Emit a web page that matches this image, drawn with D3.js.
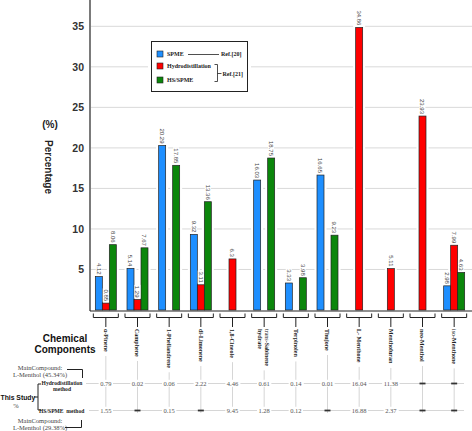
<!DOCTYPE html>
<html><head><meta charset="utf-8">
<script src="https://cdn.jsdelivr.net/npm/d3@7"></script>
<style>html,body{margin:0;padding:0;background:#fff;}svg{display:block;}</style>
</head><body>
<svg id="c" width="472" height="431"></svg>
<script>
const categories = ["α-Pinene","Camphene","1-Phellandrene","dl-Limonene","1,8-Cineole","trans-Sabinene hydrate","Terpinolen","Thujone","L- Menthone","Menthofuran","neo-Menthol","iso-Menthone"];
const series = ["SPME","Hydrodistillation","HS/SPME"];
const spme  = [4.12, 5.14, 20.29, 9.32, null, 16.03, 3.33, 16.65, null, null, null, 2.98];
const hydro = [0.85, 1.29, null, 3.11, 6.3, null, null, null, 34.86, 5.11, 23.93, 7.99];
const hsspme= [8.06, 7.67, 17.85, 13.36, null, 18.75, 3.98, 9.23, null, null, null, 4.63];
const studyHydro = [0.79, 0.02, 0.06, 2.22, 4.46, 0.61, 0.14, 0.01, 16.04, 11.38, null, null];
const studyHS    = [1.55, null, 0.15, null, 9.45, 1.28, 0.12, null, 16.88, 2.37, null, null];
const yTicks = [5,10,15,20,25,30,35];
const colors = ["#1e8fff","#ff0000","#0b860b"];

const svg = d3.select("#c");
const sans = "Liberation Sans, Arial, sans-serif";
const serif = "Liberation Serif, Times New Roman, serif";
const x = d3.scaleBand().domain(categories).range([90,470]).padding(0);
const xi = d3.scaleBand().domain(series).range([-10.5,10.5]);
const y = d3.scaleLinear().domain([0,38]).range([310,2]);
const cx = c => x(c) + x.bandwidth()/2;

// grid
svg.append("g").selectAll("line").data(yTicks).join("line")
  .attr("x1",91).attr("x2",472).attr("y1",d=>y(d)).attr("y2",d=>y(d))
  .attr("stroke","#d9d9d9").attr("stroke-width",1);

// y axis
const yAxis = d3.axisLeft(y).tickValues(yTicks).tickSize(0).tickPadding(6);
const ga = svg.append("g").attr("transform","translate(90,0)").call(yAxis);
ga.select(".domain").remove();
ga.selectAll("text").attr("font-family",sans).attr("font-size",10.5).attr("font-weight","bold").attr("fill","#333");
svg.append("line").attr("x1",90).attr("x2",90).attr("y1",0).attr("y2",311).attr("stroke","#222").attr("stroke-width",1.2);

// bars
const seriesVals = [spme, hydro, hsspme];
const bars = [];
categories.forEach((c,i)=>{
  series.forEach((s,j)=>{
    const v = seriesVals[j][i];
    if (v!=null) bars.push({c,s,j,v});
  });
});
svg.append("g").selectAll("rect").data(bars).join("rect")
  .attr("x",d=>cx(d.c)+xi(d.s)-2.5).attr("width",xi.bandwidth()+5)
  .attr("y",d=>y(d.v)-2.5).attr("height",d=>y(0)-y(d.v)+2.5).attr("fill","#fff");
svg.append("g").selectAll("rect").data(bars).join("rect")
  .attr("x",d=>cx(d.c)+xi(d.s)).attr("width",xi.bandwidth())
  .attr("y",d=>y(d.v)).attr("height",d=>y(0)-y(d.v))
  .attr("fill",d=>colors[d.j]).attr("stroke","#222").attr("stroke-width",0.7);

// value labels
bars.forEach(d=>{
  const g = svg.append("g").attr("transform",`translate(${cx(d.c)+xi(d.s)+xi.bandwidth()/2},${y(d.v)-2}) rotate(90)`);
  const r = g.append("rect").attr("fill","#fff");
  const t = g.append("text").text(String(d.v)).attr("text-anchor","end").attr("dy","0.35em")
    .attr("font-family",sans).attr("font-size",6).attr("fill","#444");
  const b = t.node().getBBox();
  r.attr("x",b.x-1).attr("y",b.y).attr("width",b.width+1).attr("height",b.height);
});

// x axis line
svg.append("line").attr("x1",90).attr("x2",472).attr("y1",311).attr("y2",311).attr("stroke","#222").attr("stroke-width",1.2);

// brackets and category labels
const rowY1 = 383.5, rowY2 = 410.5;
svg.append("line").attr("x1",86).attr("x2",464).attr("y1",rowY1).attr("y2",rowY1).attr("stroke","#ccc").attr("stroke-width",0.8);
svg.append("line").attr("x1",89).attr("x2",464).attr("y1",rowY2).attr("y2",rowY2).attr("stroke","#ccc").attr("stroke-width",0.8);

categories.forEach((c,i)=>{
  const X = cx(c);
  svg.append("path").attr("d",`M${X-12.5},313.5V317.5H${X+12.5}V313.5M${X},317.5V327`)
    .attr("fill","none").attr("stroke","#222").attr("stroke-width",1);
  const g = svg.append("g").attr("transform",`translate(${X},329) rotate(90)`);
  const parts = c==="trans-Sabinene hydrate" ? ["trans-Sabinene","hydrate"] : [c];
  const t = g.append("text").attr("font-family",serif).attr("font-size",6).attr("font-weight","bold").attr("fill","#222");
  parts.forEach((p,k)=>{
    const ts = t.append("tspan").attr("x",0).attr("dy", k===0 ? (parts.length>1? "-0.1em":"0.35em") : "1.1em");
    if (p.startsWith("trans")) { ts.append("tspan").attr("font-weight","normal").text("trans"); ts.append("tspan").text(p.slice(5)); }
    else if (p.startsWith("iso")) { ts.append("tspan").attr("font-weight","normal").text("iso"); ts.append("tspan").text(p.slice(3)); }
    else ts.text(p);
  });
  const len = t.node().getBBox().width;
  svg.insert("line",":first-child").attr("x1",X).attr("x2",X).attr("y1",329+len+4).attr("y2",413)
    .attr("stroke","#ccc").attr("stroke-width",0.8);
  [[studyHydro[i],rowY1],[studyHS[i],rowY2]].forEach(([v,yy])=>{
    if (v==null) {
      svg.append("line").attr("x1",X-3).attr("x2",X+3).attr("y1",yy).attr("y2",yy).attr("stroke","#333").attr("stroke-width",1.8);
    } else {
      const tt = svg.append("text").text(String(v)).attr("x",X).attr("y",yy).attr("dy","0.35em").attr("text-anchor","middle")
        .attr("font-family",serif).attr("font-size",6.5).attr("fill","#555");
      const b = tt.node().getBBox();
      svg.insert("rect", () => tt.node()).attr("x",b.x-1.5).attr("y",b.y).attr("width",b.width+3).attr("height",b.height).attr("fill","#fff");
    }
  });
});

// y axis title
svg.append("text").text("(%)").attr("x",50).attr("y",124).attr("dy","0.35em").attr("text-anchor","middle")
  .attr("font-family",sans).attr("font-size",10).attr("font-weight","bold").attr("fill","#222");
svg.append("text").text("Percentage").attr("transform","translate(48,167) rotate(90)").attr("dy","0.35em").attr("text-anchor","middle")
  .attr("font-family",sans).attr("font-size",10).attr("font-weight","bold").attr("fill","#222");

// legend
const lg = svg.append("g");
lg.append("rect").attr("x",148).attr("y",38).attr("width",103).attr("height",57).attr("fill","#fff");
lg.append("rect").attr("x",151.5).attr("y",41.5).attr("width",96).attr("height",50).attr("fill","#fff").attr("stroke","#222").attr("stroke-width",1);
const legY = [54, 66, 80];
series.forEach((s,j)=>{
  lg.append("rect").attr("x",157).attr("y",legY[j]-3).attr("width",6).attr("height",6).attr("fill",colors[j]).attr("stroke","#222").attr("stroke-width",0.6);
  lg.append("text").text(s).attr("x",167).attr("y",legY[j]).attr("dy","0.35em")
    .attr("font-family",serif).attr("font-size",6).attr("font-weight","bold").attr("fill","#222");
});
lg.append("line").attr("x1",188).attr("x2",219).attr("y1",54.5).attr("y2",54.5).attr("stroke","#222").attr("stroke-width",0.8);
lg.append("text").text("Ref.[20]").attr("x",221).attr("y",54).attr("dy","0.35em").attr("font-family",serif).attr("font-size",6).attr("font-weight","bold").attr("fill","#222");
lg.append("path").attr("d","M214.5,64.5H217.5V81.5H214.5M217.5,73.5H221.5").attr("fill","none").attr("stroke","#222").attr("stroke-width",0.8);
lg.append("text").text("Ref.[21]").attr("x",222.5).attr("y",73.5).attr("dy","0.35em").attr("font-family",serif).attr("font-size",6).attr("font-weight","bold").attr("fill","#222");

// left annotations
svg.append("text").attr("text-anchor","middle").attr("font-family",sans).attr("font-size",10).attr("font-weight","bold").attr("fill","#111")
  .selectAll("tspan").data(["Chemical","Components"]).join("tspan").attr("x",65).attr("y",(d,i)=>341.5+i*11).text(d=>d);
function mc(lines, x0, y0){
  svg.append("text").attr("text-anchor","middle").attr("font-family",serif).attr("font-size",6.5).attr("fill","#444")
    .selectAll("tspan").data(lines).join("tspan").attr("x",x0).attr("y",(d,i)=>y0+i*7).text(d=>d);
}
mc(["MainCompound:","L-Menthol (45.34%)"], 40, 369.5);
svg.append("path").attr("d","M67,369.5H82.5V378").attr("fill","none").attr("stroke","#222").attr("stroke-width",1);
mc(["MainCompound:","L-Menthol (29.38%)"], 40, 423);
svg.append("path").attr("d","M65,427.5H81.5V420").attr("fill","none").attr("stroke","#222").attr("stroke-width",1);

svg.append("text").attr("text-anchor","middle").attr("font-family",serif).attr("font-size",5.6).attr("font-weight","bold").attr("fill","#222")
  .selectAll("tspan").data(["Hydrodistillation","method"]).join("tspan").attr("x",62).attr("y",(d,i)=>385+i*5.5).text(d=>d);
svg.append("text").text("HS/SPME  method").attr("x",39).attr("y",412.5).attr("xml:space","preserve")
  .attr("font-family",serif).attr("font-size",5.6).attr("font-weight","bold").attr("fill","#222");
svg.append("text").text("This Study").attr("x",0.5).attr("y",399.5).attr("font-family",sans).attr("font-size",6.8).attr("font-weight","bold").attr("fill","#111");
svg.append("text").text("%").attr("x",16).attr("y",408).attr("text-anchor","middle").attr("font-family",serif).attr("font-size",6.5).attr("fill","#444");
svg.append("path").attr("d","M41,384H38V410H41M38,397H34").attr("fill","none").attr("stroke","#222").attr("stroke-width",1);
</script>
</body></html>
